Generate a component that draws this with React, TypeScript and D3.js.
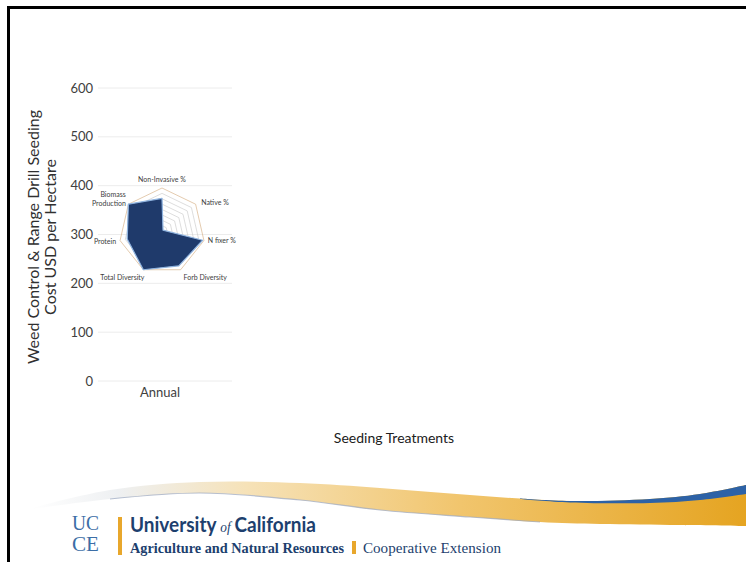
import React from "react";
import * as d3 from "d3";

const categories = ["Annual"];
const yTicks = [0, 100, 200, 300, 400, 500, 600];
const yTitleLines = ["Weed Control & Range Drill Seeding", "Cost USD per Hectare"];
const xTitle = "Seeding Treatments";

const radarAxes = ["Non-Invasive %", "Native %", "N fixer %", "Forb Diversity", "Total Diversity", "Protein", "Biomass Production"];
const radarValues = [0.76, 0.03, 0.97, 0.9, 1.0, 0.83, 1.0];
const radarRings = [1, 2, 3, 4, 5, 6, 7, 8];

const W = 746;
const H = 562;

export default function App() {
  const y = d3.scaleLinear().domain([0, 600]).range([381, 88]);
  const x = d3.scaleBand().domain(categories).range([98, 222]);

  // radar
  const cx = 162, cy = 231, R = 43;
  const n = radarAxes.length;
  const ang = (i: number) => -Math.PI / 2 + (i * 2 * Math.PI) / n;
  const rScale = d3.scaleLinear().domain([0, 1]).range([0, R]);
  const ringScale = d3.scaleLinear().domain([0, radarRings.length]).range([0, R]);
  const radial = d3.lineRadial<number>().angle((_, i) => (i * 2 * Math.PI) / n).radius((d) => d).curve(d3.curveLinearClosed);
  const dataPath = radial(radarValues.map((v) => rScale(v)))!;

  const labelPos: Record<string, { dx: number; dy: number; anchor: string }> = {
    "Non-Invasive %": { dx: 0, dy: -4, anchor: "middle" },
    "Native %": { dx: 4, dy: 2, anchor: "start" },
    "N fixer %": { dx: 2, dy: 2, anchor: "start" },
    "Forb Diversity": { dx: 2, dy: 8, anchor: "start" },
    "Total Diversity": { dx: 2, dy: 8, anchor: "end" },
    "Protein": { dx: -2, dy: 2.5, anchor: "end" },
    "Biomass Production": { dx: -1, dy: 0, anchor: "end" },
  };

  // swoosh decoration
  const topEdge: [number, number][] = [[32, 508], [110, 490], [200, 482], [300, 483], [380, 488], [470, 495], [570, 501], [650, 499], [700, 494], [746, 485]];
  const botEdge: [number, number][] = [[746, 526], [680, 525], [600, 524], [540, 522], [470, 517], [380, 510], [300, 500], [200, 493], [110, 499], [32, 509]];
  const line = d3.line().curve(d3.curveCatmullRom);
  const swoosh = line(topEdge)! + "L" + line(botEdge)!.slice(1) + "Z";
  const blueTop: [number, number][] = [[520, 498.5], [570, 501], [650, 499], [700, 494], [746, 485]];
  const blueBot: [number, number][] = [[746, 494], [700, 500], [650, 503], [570, 502.5], [520, 499]];
  const blue = line(blueTop)! + "L" + line(blueBot)!.slice(1) + "Z";
  const lowerLine = line([[110, 499], [200, 493], [300, 500], [380, 510], [470, 517], [540, 522]])!;

  const sans = "Lato, 'Open Sans', sans-serif";
  const serif = "'Liberation Serif', 'DejaVu Serif', serif";

  return (
    <svg width={W} height={H} style={{ position: "absolute", left: 0, top: 0 }} fontFamily={sans}>
      <defs>
        <linearGradient id="sw" x1="0" x2="1" y1="0" y2="0">
          <stop offset="0" stopColor="#ffffff" />
          <stop offset="0.12" stopColor="#eef0f2" />
          <stop offset="0.3" stopColor="#f6e2b8" />
          <stop offset="0.6" stopColor="#f1c56d" />
          <stop offset="1" stopColor="#e5a421" />
        </linearGradient>
      </defs>
      <rect x={0} y={0} width={W} height={H} fill="#fff" />
      {/* frame */}
      <path d={`M8.5,${H} V7.5 H${W}`} fill="none" stroke="#000" strokeWidth={3} />

      {/* gridlines */}
      {yTicks.map((t) => (
        <line key={t} x1={98} x2={232} y1={y(t)} y2={y(t)} stroke="#ececec" strokeWidth={1} />
      ))}
      {yTicks.map((t) => (
        <text key={"l" + t} x={93} y={y(t)} dy="0.35em" textAnchor="end" fontSize={13} fill="#404040">{t}</text>
      ))}
      {categories.map((c) => (
        <text key={c} x={x(c)! + x.bandwidth() / 2} y={397} textAnchor="middle" fontSize={13} fill="#404040">{c}</text>
      ))}
      <text x={394} y={443} textAnchor="middle" fontSize={14} fill="#202020">{xTitle}</text>
      {yTitleLines.map((t, i) => (
        <text key={t} transform={`translate(${39 + i * 17},237) rotate(-90)`} textAnchor="middle" fontSize={16} fill="#303030">{t}</text>
      ))}

      {/* radar */}
      <g transform={`translate(${cx},${cy})`}>
        {radarRings.map((r) => (
          <path key={r} d={radial(radarAxes.map(() => ringScale(r)))!} fill="none"
            stroke={r === radarRings.length ? "#d9b48c" : "#cfcfcf"} strokeWidth={0.7} />
        ))}
        <path d={dataPath} fill="#1f3a6b" stroke="#8fb3df" strokeWidth={1.2} strokeLinejoin="round" />
        {radarAxes.map((a, i) => {
          const px = Math.cos(ang(i)) * (R + 2);
          const py = Math.sin(ang(i)) * (R + 2);
          const p = labelPos[a];
          if (a === "Biomass Production") {
            return (
              <text key={a} x={px + p.dx} y={py} textAnchor="end" fontSize={7} fill="#404040">
                <tspan x={px + p.dx} dy={-6}>Biomass</tspan>
                <tspan x={px + p.dx} dy={9}>Production</tspan>
              </text>
            );
          }
          return (
            <text key={a} x={px + p.dx} y={py + p.dy} textAnchor={p.anchor} fontSize={7} fill="#404040">{a}</text>
          );
        })}
      </g>

      {/* swoosh */}
      <path d={swoosh} fill="url(#sw)" />
      <path d={lowerLine} fill="none" stroke="#9aa7c0" strokeWidth={1.2} opacity={0.7} />
      <path d={blue} fill="#2d62a6" />

      {/* logo */}
      <text x={72} y={530} fontFamily={serif} fontSize={20} fill="#3c6ea6" textLength={27} lengthAdjust="spacingAndGlyphs">UC</text>
      <text x={72} y={551} fontFamily={serif} fontSize={20} fill="#3c6ea6" textLength={27} lengthAdjust="spacingAndGlyphs">CE</text>
      <rect x={118} y={517} width={4} height={38} fill="#e8a72c" />
      <g transform="translate(130,532) scale(0.95,1)" fill="#1d3f6e">
        <text x={0} y={0} fontSize={20} fontWeight={700}>
          University
          <tspan fontFamily={serif} fontStyle="italic" fontWeight={400} fontSize={14} dx={4}>of</tspan>
          <tspan dx={4}>California</tspan>
        </text>
      </g>
      <text x={130} y={553} fontFamily={serif} fontSize={15} fontWeight={700} fill="#1d3f6e" textLength={214} lengthAdjust="spacingAndGlyphs">Agriculture and Natural Resources</text>
      <rect x={352} y={541} width={4} height={13} fill="#e8a72c" />
      <text x={363} y={553} fontFamily={serif} fontSize={15} fill="#1d3f6e" textLength={138} lengthAdjust="spacingAndGlyphs">Cooperative Extension</text>
    </svg>
  );
}
